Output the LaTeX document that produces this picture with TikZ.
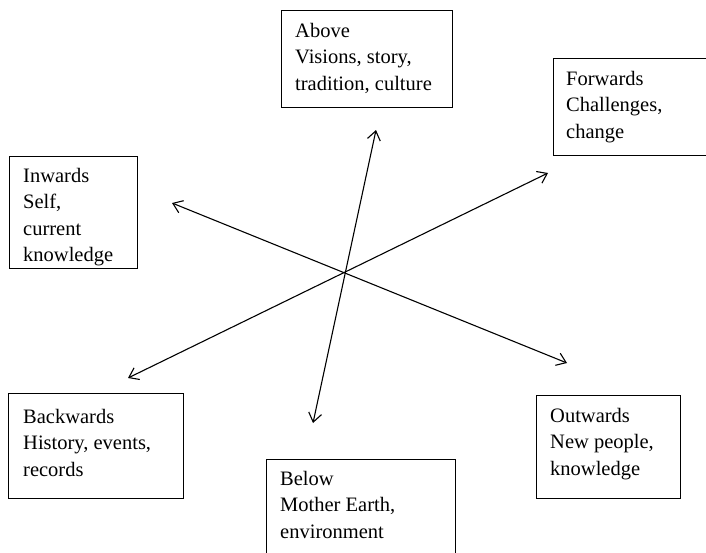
\documentclass[tikz,border=0pt]{standalone}
\usepackage{fontspec}
\setmainfont{Liberation Serif}
\usetikzlibrary{arrows.meta}
\begin{document}
\begin{tikzpicture}[x=1pt,y=-1pt,
  framebox/.style={draw, line width=0.9pt, anchor=north west, inner sep=0pt},
  lbl/.style={anchor=north west, align=left, inner sep=0pt,
    font=\fontsize{20.5}{26.5}\selectfont},
  dirline/.style={{Straight Barb[length=9pt,width=13pt]}-{Straight Barb[length=9pt,width=13pt]},
    line width=1.1pt}]
\clip (0,0) rectangle (706,552);

% frames
\node[framebox, minimum width=171pt, minimum height=97pt]  (above) at (281,10)  {};
\node[framebox, minimum width=170pt, minimum height=97pt]  (fwd)   at (553,58)  {};
\node[framebox, minimum width=128pt, minimum height=112pt] (inw)   at (9,156)   {};
\node[framebox, minimum width=175pt, minimum height=105pt] (bwd)   at (8,393)   {};
\node[framebox, minimum width=144pt, minimum height=103pt] (outw)  at (536,395) {};
\node[framebox, minimum width=189pt, minimum height=110pt] (below) at (266,459) {};

% texts
\node[lbl] (abovet) at (295,23)  {Above\\Visions, story,\\tradition, culture};
\node[lbl] (fwdt)   at (566,71)  {Forwards\\Challenges,\\change};
\node[lbl] (inwt)   at (23,168)  {Inwards\\Self,\\current\\knowledge};
\node[lbl] (bwdt)   at (23,409)  {Backwards\\History, events,\\records};
\node[lbl] (outwt)  at (550,408) {Outwards\\New people,\\knowledge};
\node[lbl] (belowt) at (280,471) {Below\\Mother Earth,\\environment};

% arrow ends
\coordinate (pUp)   at (376,130);
\coordinate (pDown) at (313,423);
\coordinate (pFwd)  at (548,173);
\coordinate (pBwd)  at (128,378);
\coordinate (pIn)   at (172,203);
\coordinate (pOut)  at (567,363);

\draw[dirline] (pUp)  -- (pDown);
\draw[dirline] (pFwd) -- (pBwd);
\draw[dirline] (pIn)  -- (pOut);
\end{tikzpicture}
\end{document}
